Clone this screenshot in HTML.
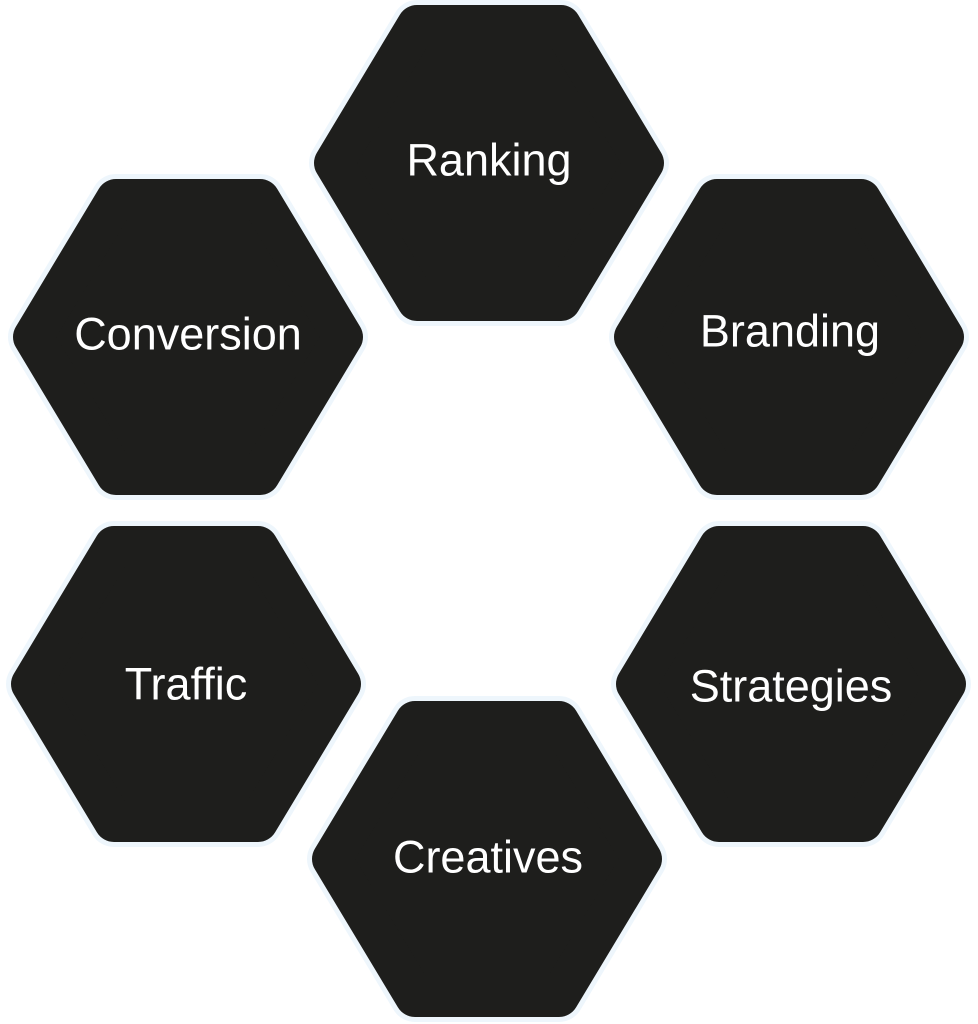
<!DOCTYPE html>
<html><head><style>
html,body{margin:0;padding:0;background:#fff;}
svg{display:block;}
text{font-family:"Liberation Sans",sans-serif;font-size:45px;fill:#fff;text-anchor:middle;dominant-baseline:central;}
</style></head><body>
<svg width="978" height="1024" viewBox="0 0 978 1024">
<defs>
<polygon id="h" points="-155,0 -72,-138 72,-138 155,0 72,138 -72,138"/>
</defs>
<g stroke-linejoin="round">
<g fill="#eef6fc" stroke="#eef6fc" stroke-width="50">
<use href="#h" x="489" y="163"/><use href="#h" x="188" y="337"/><use href="#h" x="789" y="337"/>
<use href="#h" x="186" y="684"/><use href="#h" x="791" y="684"/><use href="#h" x="487" y="859"/>
</g>
<g fill="#1e1e1c" stroke="#1e1e1c" stroke-width="40">
<use href="#h" x="489" y="163"/><use href="#h" x="188" y="337"/><use href="#h" x="789" y="337"/>
<use href="#h" x="186" y="684"/><use href="#h" x="791" y="684"/><use href="#h" x="487" y="859"/>
</g>
</g>
<text x="489" y="160">Ranking</text>
<text x="188" y="334">Conversion</text>
<text x="790" y="331">Branding</text>
<text x="186" y="684">Traffic</text>
<text x="791" y="686">Strategies</text>
<text x="488" y="857">Creatives</text>
</svg>
</body></html>
